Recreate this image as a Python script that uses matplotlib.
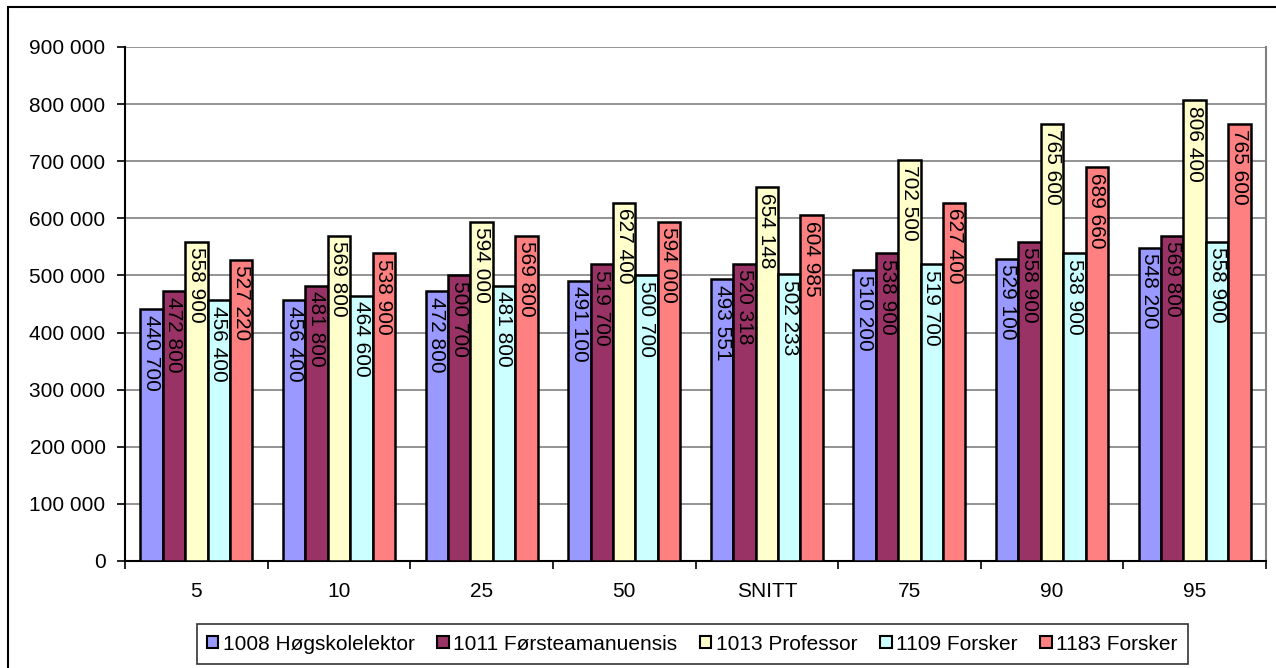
import numpy as np
import matplotlib.pyplot as plt
from matplotlib.ticker import FixedLocator, FuncFormatter

plt.rcParams['font.family'] = ['Liberation Sans', 'DejaVu Sans']

categories = ["5", "10", "25", "50", "SNITT", "75", "90", "95"]
series_names = ["1008 Høgskolelektor", "1011 Førsteamanuensis", "1013 Professor",
                "1109 Forsker", "1183 Forsker"]
hogskolelektor = [440700, 456400, 472800, 491100, 493551, 510200, 529100, 548200]
forsteamanuensis = [472800, 481800, 500700, 519700, 520318, 538900, 558900, 569800]
professor = [558900, 569800, 594000, 627400, 654148, 702500, 765600, 806400]
forsker_1109 = [456400, 464600, 481800, 500700, 502233, 519700, 538900, 558900]
forsker_1183 = [527220, 538900, 569800, 594000, 604985, 627400, 689660, 765600]
series = [hogskolelektor, forsteamanuensis, professor, forsker_1109, forsker_1183]
colors = ["#9999FF", "#993366", "#FFFFCC", "#CCFFFF", "#FF8080"]

fs = 15

def fmt(v):
    return f"{int(v):,}".replace(",", " ")

fig = plt.figure(figsize=(12.76, 6.68), dpi=100)
ax = fig.add_axes([125 / 1276, 1 - 561 / 668, (1266 - 125) / 1276, (561 - 47) / 668])

x = np.arange(len(categories))
w = 0.157
for i, (vals, c, name) in enumerate(zip(series, colors, series_names)):
    pos = x + (i - 2) * w
    ax.bar(pos, vals, width=w, color=c, edgecolor="black", linewidth=1.8,
           label=name, zorder=3)
    for p, v in zip(pos, vals):
        ax.annotate(fmt(v), (p, v), xytext=(0, -4), textcoords="offset points",
                    rotation=-90, ha="center", va="top", fontsize=fs, zorder=4)

ax.set_xlim(-0.5, len(categories) - 0.5)
ax.set_ylim(0, 900000)
ax.yaxis.set_major_locator(FixedLocator(np.arange(0, 900001, 100000)))
ax.yaxis.set_major_formatter(FuncFormatter(lambda v, _: fmt(v)))
ax.set_xticks(x)
ax.set_xticklabels(categories)
ax.xaxis.set_minor_locator(FixedLocator(np.arange(-0.5, len(categories), 1)))
ax.tick_params(axis="x", which="major", length=0, pad=15, labelsize=fs)
ax.tick_params(axis="x", which="minor", length=6, width=1.2, color="black")
ax.tick_params(axis="y", length=6, width=1.2, pad=8, labelsize=fs)
ax.grid(True, axis="y", color="#808080", linewidth=1.2, zorder=0)
ax.set_axisbelow(True)
ax.spines["left"].set_linewidth(1.5)
ax.spines["bottom"].set_linewidth(1.5)
ax.spines["top"].set_visible(False)
ax.spines["right"].set_color("#808080")
ax.spines["right"].set_linewidth(1.5)

leg = fig.legend(loc="center", bbox_to_anchor=(692 / 1276, 1 - 644 / 668), ncol=5,
                 fontsize=fs, frameon=True, fancybox=False, edgecolor="black",
                 handlelength=0.55, handleheight=0.55, handletextpad=0.2,
                 columnspacing=1.1, borderpad=0.5)
leg.get_frame().set_linewidth(1.2)
for h in leg.legend_handles:
    h.set_linewidth(1.5)

# outer chart border (top and left visible)
fig.add_artist(plt.Rectangle((8 / 1276, -0.05), 1.1, 1 - 7 / 668 + 0.05, fill=False,
                             edgecolor="black", linewidth=1.5, transform=fig.transFigure))

plt.savefig("out.png", dpi=100)
